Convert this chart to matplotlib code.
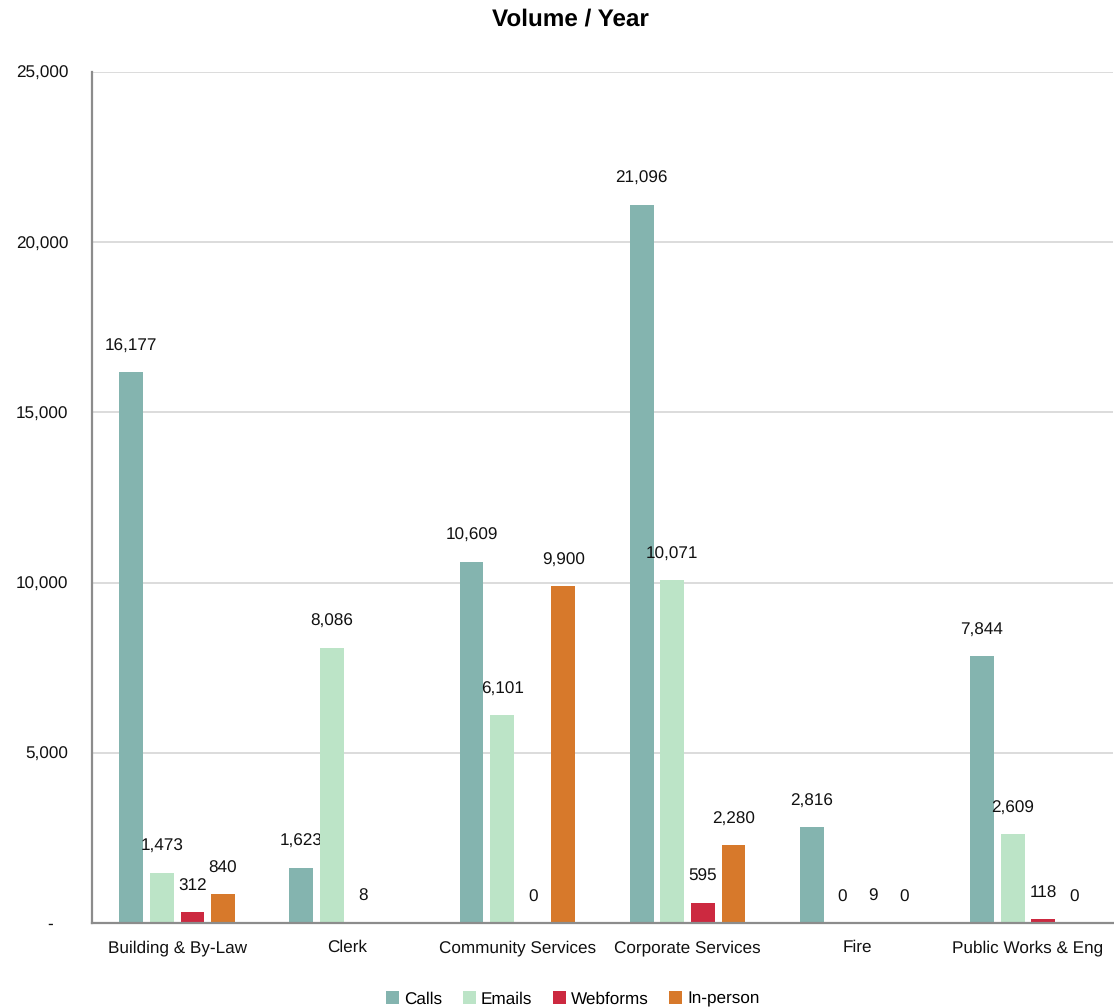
import matplotlib
matplotlib.use("Agg")
import matplotlib.pyplot as plt
from matplotlib.ticker import FuncFormatter, MultipleLocator
import numpy as np

plt.rcParams['font.family'] = ['Liberation Sans', 'DejaVu Sans']
plt.rcParams['text.hinting'] = 'no_hinting'

# Обращения по отделам за год
departments = ["Building & By-Law", "Clerk", "Community Services",
               "Corporate Services", "Fire", "Public Works & Eng"]
calls = [16177, 1623, 10609, 21096, 2816, 7844]
emails = [1473, 8086, 6101, 10071, 0, 2609]
webforms = [312, 8, 0, 595, 9, 118]
in_person = [840, np.nan, 9900, 2280, 0, 0]  # у Clerk нет данных

series = [
    ("Calls", calls, "#84b4af"),
    ("Emails", emails, "#bce4c7"),
    ("Webforms", webforms, "#cc2940"),
    ("In-person", in_person, "#d7792b"),
]

fig = plt.figure(figsize=(11.14, 10.08), dpi=100)
ax = fig.add_axes([0.0826, 0.0843, 0.9165, 0.8443])

x = np.arange(len(departments))
step = 0.18
width = 0.14
fs = 12.3

for i, (name, vals, color) in enumerate(series):
    vals = np.array(vals, dtype=float)
    pos = x + (i - 1.5) * step
    ax.bar(pos, np.nan_to_num(vals), width=width, color=color, label=name, zorder=3)
    for px, v in zip(pos, vals):
        if np.isnan(v):
            continue
        ax.annotate(f"{v:,.0f}", (px, v), xytext=(0, 13), textcoords="offset points",
                    ha="center", va="bottom", fontsize=fs, color="#111111")

ax.set_xlim(-0.5, len(departments) - 0.5)
ax.set_ylim(0, 25000)
ax.yaxis.set_major_locator(MultipleLocator(5000))
ax.yaxis.set_major_formatter(FuncFormatter(lambda v, _: "-   " if v == 0 else f"{v:,.0f}"))
ax.set_xticks(x)
ax.set_xticklabels(departments)
ax.tick_params(axis="both", length=0, labelsize=fs, colors="#111111")
ax.tick_params(axis="y", pad=17)
ax.tick_params(axis="x", pad=12)

ax.grid(axis="y", color="#d9d9d9", linewidth=1.3, zorder=0)
for side in ("top", "right"):
    ax.spines[side].set_visible(False)
for side in ("left", "bottom"):
    ax.spines[side].set_color("#8c8c8c")
    ax.spines[side].set_linewidth(1.6)
    ax.spines[side].set_zorder(4)

fig.suptitle("Volume / Year", x=0.512, y=0.992, fontsize=17.5, fontweight="bold")

ax.legend(loc="lower center", bbox_to_anchor=(0.471, -0.117), ncol=4, frameon=False,
          fontsize=fs, handlelength=0.75, handleheight=0.75, handletextpad=0.3,
          columnspacing=1.2)

fig.savefig("out.png", dpi=100)
